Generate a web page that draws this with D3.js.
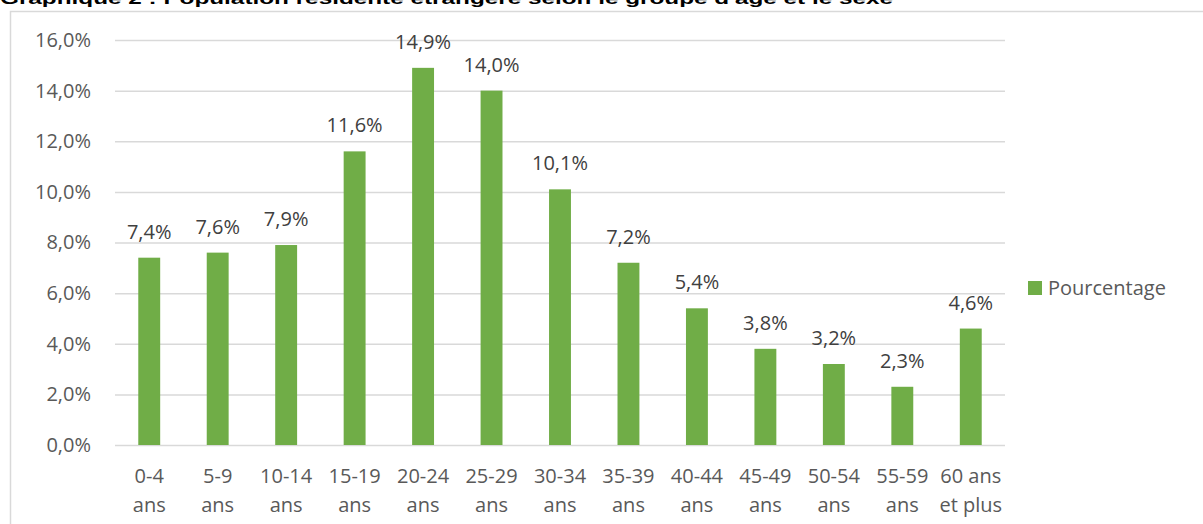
<!DOCTYPE html>
<html>
<head>
<meta charset="utf-8">
<script src="https://cdn.jsdelivr.net/npm/d3@7"></script>
<style>
  html, body { margin: 0; padding: 0; background: #fff; }
  svg { display: block; }
</style>
</head>
<body>
<div id="chart"></div>
<script>
// ── Data ──────────────────────────────────────────────────────────────────────
const TITLE      = "Graphique 2 : Population résidente étrangère selon le groupe d'âge et le sexe";
const SERIES     = "Pourcentage";
const CATEGORIES = [
  ["0-4", "ans"], ["5-9", "ans"], ["10-14", "ans"], ["15-19", "ans"],
  ["20-24", "ans"], ["25-29", "ans"], ["30-34", "ans"], ["35-39", "ans"],
  ["40-44", "ans"], ["45-49", "ans"], ["50-54", "ans"], ["55-59", "ans"],
  ["60 ans", "et plus"]
];
const VALUES = [7.4, 7.6, 7.9, 11.6, 14.9, 14.0, 10.1, 7.2, 5.4, 3.8, 3.2, 2.3, 4.6];
const Y_TICKS = [0, 2, 4, 6, 8, 10, 12, 14, 16];

const COLOR = "#70ad47";
const FONT  = "'Open Sans', 'Noto Sans', sans-serif";
const FS    = 20;
const fmt   = v => v.toFixed(1).replace(".", ",") + "%";

// ── Dimensions ────────────────────────────────────────────────────────────────
const W = 1203, H = 524;
const plot = { left: 115, right: 1005, top: 40, bottom: 445 };

const svg = d3.select("#chart").append("svg")
  .attr("width", W).attr("height", H);

// frame
svg.append("rect")
  .attr("x", 10.5).attr("y", 11.5)
  .attr("width", 1200).attr("height", 530)
  .attr("fill", "none").attr("stroke", "#d9d9d9").attr("stroke-width", 1.5);

// title (clipped at top, as in the source)
svg.append("text")
  .attr("x", 0).attr("y", 4)
  .attr("font-family", "'Liberation Sans', Arial, sans-serif")
  .attr("font-weight", "bold").attr("font-size", 17)
  .attr("textLength", 893).attr("lengthAdjust", "spacingAndGlyphs")
  .text(TITLE);

// ── Scales ────────────────────────────────────────────────────────────────────
const x = d3.scaleBand()
  .domain(d3.range(CATEGORIES.length))
  .range([plot.left, plot.right])
  .paddingInner(0.68).paddingOuter(0.34);

const y = d3.scaleLinear().domain([0, 16]).range([plot.bottom, plot.top]);

// ── Grid + y axis ─────────────────────────────────────────────────────────────
const yAxis = svg.append("g")
  .attr("transform", `translate(${plot.left},0)`)
  .call(d3.axisLeft(y).tickValues(Y_TICKS).tickSize(-(plot.right - plot.left))
    .tickPadding(24).tickFormat(fmt));
yAxis.select(".domain").remove();
yAxis.selectAll("line").attr("stroke", "#d9d9d9").attr("stroke-width", 1.5);
yAxis.selectAll("text")
  .attr("font-family", FONT).attr("font-size", FS).attr("fill", "#595959");

// ── Bars ──────────────────────────────────────────────────────────────────────
svg.append("g").selectAll("rect")
  .data(VALUES)
  .join("rect")
  .attr("x", (d, i) => x(i))
  .attr("width", x.bandwidth())
  .attr("y", d => y(d))
  .attr("height", d => y(0) - y(d))
  .attr("fill", COLOR);

// data labels
svg.append("g").selectAll("text")
  .data(VALUES)
  .join("text")
  .attr("x", (d, i) => x(i) + x.bandwidth() / 2)
  .attr("y", d => y(d) - 19)
  .attr("text-anchor", "middle")
  .attr("font-family", FONT).attr("font-size", FS).attr("fill", "#404040")
  .text(fmt);

// ── X labels ──────────────────────────────────────────────────────────────────
const xl = svg.append("g").selectAll("text")
  .data(CATEGORIES)
  .join("text")
  .attr("text-anchor", "middle")
  .attr("font-family", FONT).attr("font-size", FS).attr("fill", "#595959");
xl.selectAll("tspan")
  .data((d, i) => d.map(s => ({ s, i })))
  .join("tspan")
  .attr("x", d => x(d.i) + x.bandwidth() / 2)
  .attr("y", (d, j) => 483 + j * 29)
  .text(d => d.s);

// ── Legend ────────────────────────────────────────────────────────────────────
const lg = svg.append("g").attr("transform", "translate(1028,281)");
lg.append("rect").attr("width", 14).attr("height", 14).attr("fill", COLOR);
lg.append("text")
  .attr("x", 20).attr("y", 14)
  .attr("font-family", FONT).attr("font-size", FS).attr("fill", "#595959")
  .text(SERIES);
</script>
</body>
</html>
